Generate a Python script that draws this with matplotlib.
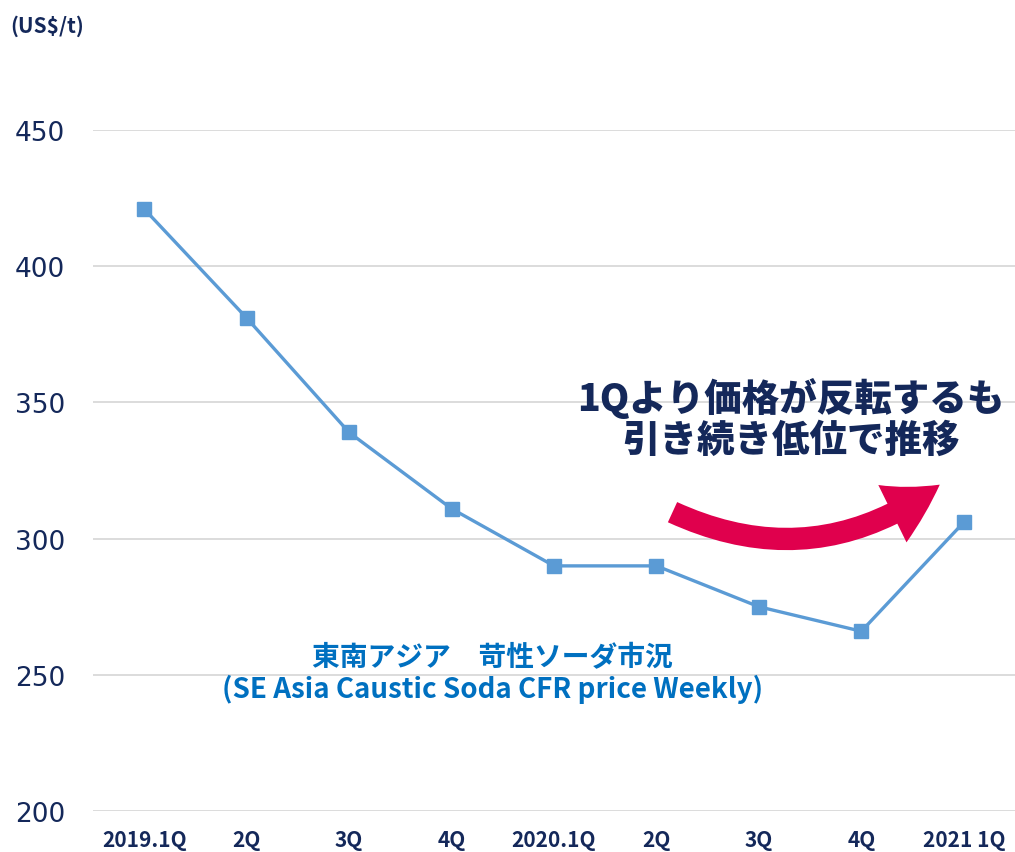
import matplotlib
matplotlib.use("Agg")
import matplotlib.pyplot as plt
from matplotlib.patches import FancyArrowPatch

# データ
quarters = ["2019.1Q", "2Q", "3Q", "4Q", "2020.1Q", "2Q", "3Q", "4Q", "2021 1Q"]
prices = [421, 381, 339, 311, 290, 290, 275, 266, 306]
y_ticks = [200, 250, 300, 350, 400, 450]

NAVY = "#14285A"
LINE_BLUE = "#5B9BD5"
LABEL_BLUE = "#0070C0"
RED = "#E0004D"
JP = ["Noto Sans CJK JP", "DejaVu Sans"]

fig = plt.figure(figsize=(10.15, 8.53), dpi=100)
ax = fig.add_axes([0.0916, 0.048, 0.9084, 0.7984])

x = list(range(len(quarters)))
ax.plot(x, prices, color=LINE_BLUE, lw=2.4, marker="s", markersize=10,
        markerfacecolor=LINE_BLUE, markeredgecolor=LINE_BLUE, zorder=3)

ax.set_xlim(-0.5, len(quarters) - 0.5)
ax.set_ylim(200, 450)
ax.set_yticks(y_ticks)
ax.set_xticks(x)
ax.set_xticklabels(quarters, fontsize=15, fontweight="bold", color=NAVY,
                   family=JP)
ax.tick_params(axis="y", labelsize=19, labelcolor=NAVY, length=0, pad=20)
ax.tick_params(axis="x", length=0, pad=13)
ax.grid(axis="y", color="#D9D9D9", lw=1.3)
ax.set_axisbelow(True)
for s in ax.spines.values():
    s.set_visible(False)

# 単位
fig.text(0.01, 0.969, "(US$/t)", fontsize=15, fontweight="bold",
         color=NAVY, ha="left", va="center", family=JP)

# コメント
fig.text(0.779, 0.509, "1Qより価格が反転するも\n引き続き低位で推移", fontsize=27,
         fontweight="black", color=NAVY, ha="center", va="center",
         family=JP, linespacing=1.12)

# 系列ラベル
ax.text(0.433, 0.203, "東南アジア　苛性ソーダ市況\n(SE Asia Caustic Soda CFR price Weekly)",
        transform=ax.transAxes, fontsize=20, fontweight="bold", color=LABEL_BLUE,
        ha="center", va="center", family=JP, linespacing=1.1)

# 矢印
arrow = FancyArrowPatch((670 / 1015, 1 - 512 / 853), (942 / 1015, 1 - 484 / 853),
                        transform=fig.transFigure,
                        connectionstyle="arc3,rad=0.3",
                        arrowstyle="simple,head_width=46,head_length=40,tail_width=16",
                        color=RED, lw=0, zorder=5)
fig.patches.append(arrow)

fig.savefig("out.png", dpi=100)
